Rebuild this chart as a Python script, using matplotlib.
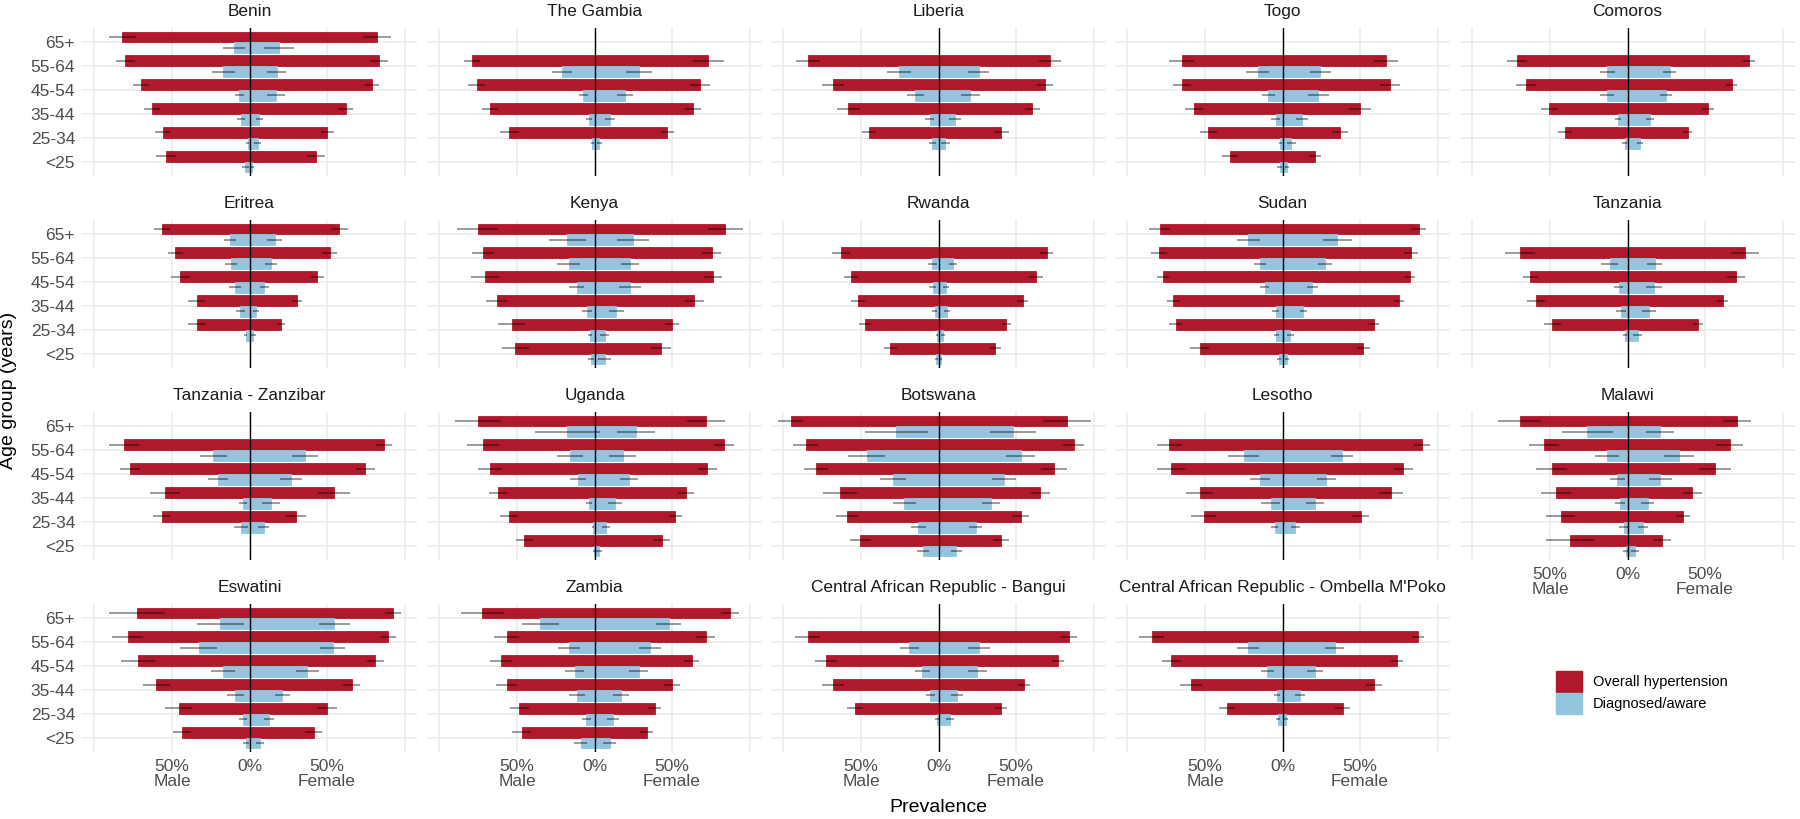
import numpy as np
import matplotlib
matplotlib.use("Agg")
import matplotlib.pyplot as plt
from matplotlib.patches import Patch

N = np.nan

AGE_GROUPS = ["<25", "25-34", "35-44", "45-54", "55-64", "65+"]

COUNTRIES = [
    "Benin", "The Gambia", "Liberia", "Togo", "Comoros",
    "Eritrea", "Kenya", "Rwanda", "Sudan", "Tanzania",
    "Tanzania - Zanzibar", "Uganda", "Botswana", "Lesotho", "Malawi",
    "Eswatini", "Zambia", "Central African Republic - Bangui",
    "Central African Republic - Ombella M'Poko",
]

# Overall hypertension prevalence (%), order of AGE_GROUPS
HYP_MALE = [
    [54, 56, 63, 70, 80, 82],
    [N, 55, 67.5, 76, 79, N],
    [N, 44.8, 58.2, 68, 84.2, N],
    [33.8, 48, 57.1, 64.7, 64.9, N],
    [N, 40, 50.4, 65.2, 71.2, N],
    [N, 33.8, 34.1, 44.6, 47.8, 56.4],
    [51, 53.5, 63.1, 70.5, 71.8, 75.3],
    [31.1, 47.4, 52, 56.3, 62.9, N],
    [53.4, 68.9, 70.3, 77.1, 79.7, 79.1],
    [N, 48.5, 59.1, 62.6, 69.3, N],
    [N, 56.7, 54.5, 76.9, 81.1, N],
    [45.2, 55.4, 62.2, 67.6, 71.8, 75],
    [50.3, 58.9, 63.4, 78.9, 85.7, 95.4],
    [N, 50.9, 53.4, 71.7, 72.9, N],
    [37.2, 43.1, 46.1, 48.9, 53.7, 69.5],
    [43.5, 45.7, 60, 72.1, 78.4, 72.4],
    [47, 48.5, 56.7, 60.4, 56.7, 72.4],
    [N, 53.7, 67.9, 72.4, 84.3, N],
    [N, 35.8, 59, 71.6, 84.3, N],
]
HYP_MALE_ERR = [
    [6.4, 5, 5, 5.2, 6, 8.5],
    [N, 6, 5.2, 5.4, 5.4, N],
    [N, 4.5, 7.5, 7.3, 7.5, N],
    [5.3, 5.5, 5.9, 5.9, 8, N],
    [N, 4.5, 5.3, 6.4, 6.2, N],
    [N, 5.9, 5.4, 6, 5, 5.4],
    [8.6, 8.8, 6.8, 9, 7.3, 13.3],
    [4.2, 3.7, 4.4, 4.6, 6, N],
    [6, 4.4, 4.2, 4, 5, 6.8],
    [N, 5.4, 5.6, 5.1, 9.5, N],
    [N, 5.5, 9.5, 6.4, 9.8, N],
    [5.5, 5.8, 5.9, 7.8, 10.1, 14.8],
    [6.5, 7.2, 10.9, 7.6, 8.3, 8],
    [N, 8, 8.9, 8.9, 8, N],
    [15.5, 9.2, 9.5, 10, 9.5, 14],
    [5.9, 8.6, 8.9, 11, 10, 18],
    [6, 6, 7, 7, 8, 14],
    [N, 5, 7, 7, 8, N],
    [N, 5, 7, 6, 8, N],
]
HYP_FEMALE = [
    [43, 50, 62, 79, 83.5, 82.5],
    [N, 47, 63.4, 68.2, 73.4, N],
    [N, 40.5, 60.6, 68.8, 72.1, N],
    [21, 37.2, 50, 69.5, 66.7, N],
    [N, 38.7, 51.9, 67.1, 78.1, N],
    [N, 20.4, 30.6, 43.6, 51.6, 58],
    [42.9, 50, 64.4, 76.3, 75.6, 84.3],
    [36.6, 43.7, 54.3, 62.9, 69.7, N],
    [52, 59.1, 75.4, 82.3, 82.9, 87.7],
    [N, 45.5, 61.3, 70.1, 75.8, N],
    [N, 30.1, 54.5, 74.7, 86.9, N],
    [43.6, 52.2, 59, 72.8, 83.3, 72.1],
    [40.3, 53.1, 65.7, 74.3, 87.1, 82.9],
    [N, 50.3, 70, 78, 90, N],
    [22.5, 35.5, 41.8, 56.7, 65.8, 70.6],
    [41.3, 49.8, 66, 81.2, 89.6, 92.5],
    [33.6, 38.8, 50, 62.7, 71.6, 87.3],
    [N, 40.3, 55.2, 76.9, 84.3, N],
    [N, 38.8, 59, 73.9, 87.3, N],
]
HYP_FEMALE_ERR = [
    [6, 4.2, 4.8, 4.5, 5.6, 9],
    [N, 4.4, 5, 6.5, 10, N],
    [N, 5, 5, 5.2, 7, N],
    [3.9, 5.1, 7.2, 6.4, 7.6, N],
    [N, 3.2, 3.8, 3.8, 3.8, N],
    [N, 2.6, 3.2, 4.2, 5.1, 5.4],
    [6.2, 4.7, 6.1, 5.6, 6, 11.2],
    [3.6, 3, 3.4, 4.3, 4, N],
    [4.2, 3.4, 3.2, 3.1, 4.4, 4.8],
    [N, 3.5, 3.5, 5.7, 9, N],
    [N, 6.3, 10.6, 6, 5.2, N],
    [5.1, 4.4, 5.4, 6.3, 6.5, 12.3],
    [5.2, 5.5, 6.2, 8.5, 7, 15.3],
    [N, 5.6, 7.9, 6, 5, N],
    [5.3, 4.5, 6, 10.3, 8.9, 8.8],
    [5.2, 6.4, 5.4, 5.2, 5, 5],
    [4, 4, 5, 5, 6, 6],
    [N, 4, 4, 4, 5, N],
    [N, 5, 5, 4, 4, N],
]

# Diagnosed / aware prevalence (%)
AWARE_MALE = [
    [2.6, 1.1, 5.2, 6.5, 17, 10],
    [N, 1.3, 3.5, 7.1, 20.8, N],
    [N, 3.9, 5.8, 14.9, 25.3, N],
    [1.9, 1.5, 4.5, 9.1, 16, N],
    [N, 1.9, 6.1, 13, 13, N],
    [N, 2.5, 6, 9.2, 12.1, 12.4],
    [2.2, 2.9, 4.8, 11.5, 16.7, 17.6],
    [1.4, 1.1, 2.3, 3.7, 4, N],
    [2, 4, 4.3, 11.4, 14.3, 22],
    [N, 1.7, 4.3, 5.8, 11.5, N],
    [N, 5.4, 4.2, 20.2, 23.4, N],
    [0.3, 1, 3.5, 10.6, 15.7, 17.6],
    [10, 12.9, 22, 29.4, 46.3, 27.1],
    [N, 5.1, 7.7, 14.6, 24.9, N],
    [1.1, 2.4, 4.8, 6.5, 13.2, 25.8],
    [2.4, 4.1, 9.1, 17.1, 32.8, 18.7],
    [9, 5.2, 11.2, 12.7, 16.4, 35],
    [N, 1, 5.2, 10.4, 18.7, N],
    [N, 3, 3.7, 9.7, 22.4, N],
]
AWARE_MALE_ERR = [
    [2, 1, 2.6, 2.8, 7.5, 7],
    [N, 1, 2, 3.2, 6.5, N],
    [N, 2, 3.2, 5.4, 7.8, N],
    [1.5, 1, 3, 4.2, 7.3, N],
    [N, 1.5, 2.2, 4.5, 5, N],
    [N, 1.2, 2.8, 3.8, 3.8, 3.8],
    [2, 1.5, 3, 4.8, 7.4, 12],
    [0.8, 0.8, 1.6, 2.2, 3, N],
    [1.3, 1.8, 2.2, 2.8, 3.8, 7.2],
    [N, 1.3, 3.2, 3.1, 5.3, N],
    [N, 4.4, 2.5, 6.3, 8.7, N],
    [0.5, 0.8, 1.8, 5.2, 8.3, 21],
    [3.9, 4.6, 7.5, 8.5, 12, 20.5],
    [N, 2.5, 6.2, 6.3, 10, N],
    [2, 3, 3, 5, 7.8, 16.5],
    [2, 2.5, 5.4, 7.6, 12, 15],
    [4, 3, 5, 6, 7, 12],
    [N, 1, 3, 5, 6, N],
    [N, 1.5, 2, 4, 7, N],
]
AWARE_FEMALE = [
    [1.7, 5.4, 6.3, 17, 17.5, 19],
    [N, 3.2, 10.2, 19.7, 28.8, N],
    [N, 4.5, 10.8, 20.6, 25.8, N],
    [3, 5.8, 12.6, 23.2, 24.5, N],
    [N, 8, 14.5, 24.7, 27.1, N],
    [N, 2.5, 4.1, 9.6, 13.7, 16.2],
    [6.7, 6.7, 14.1, 22.8, 22.8, 24.7],
    [1.4, 2.9, 5.7, 4.9, 9.1, N],
    [2.6, 5.1, 13.4, 19.1, 27.4, 35.4],
    [N, 6.7, 13.9, 17.1, 17.5, N],
    [N, 9.3, 13.8, 26.9, 35.6, N],
    [2.9, 7.4, 13.1, 22.1, 18.3, 26.9],
    [11.4, 24, 34, 42.3, 52.9, 48],
    [N, 8.3, 21.1, 28.3, 38.3, N],
    [4.8, 10, 13, 21, 33.1, 21],
    [6.7, 12.6, 21, 37.2, 53.7, 54.5],
    [9.7, 11.9, 17.2, 28.4, 35.8, 47.8],
    [N, 7.5, 11.9, 25, 26, N],
    [N, 2.2, 11.2, 20.9, 33.6, N],
]
AWARE_FEMALE_ERR = [
    [1, 2.3, 2.3, 5.8, 6.3, 9.5],
    [N, 1.8, 3.2, 5.4, 8.3, N],
    [N, 2.8, 4, 6.3, 6.5, N],
    [1.5, 2.7, 3.9, 6.7, 6.8, N],
    [N, 2.1, 2.6, 3.8, 4.1, N],
    [N, 1.5, 2, 2.8, 4, 4.6],
    [4.2, 2.9, 5, 6.9, 5.9, 10.3],
    [0.8, 1.5, 2, 2, 2.6, N],
    [1.3, 2, 2.4, 3.5, 4.8, 9.3],
    [N, 2.9, 4.5, 5.2, 5, N],
    [N, 3.5, 5.6, 7, 8.5, N],
    [2.2, 2.7, 4.4, 5.8, 8.7, 12.4],
    [3.6, 4.3, 5.7, 7.9, 9.2, 15],
    [N, 2.9, 5.8, 6.3, 6.9, N],
    [2.4, 3.3, 4.1, 7.4, 9.8, 8.9],
    [2.5, 3, 4.8, 7.3, 8, 10],
    [4, 4, 5, 6, 7, 8],
    [N, 2.5, 4, 6, 7, N],
    [N, 1.5, 3, 5, 6, N],
]

X_BREAKS = [-100, -50, 0, 50, 100]
X_LABELS = ["", "50%\nMale", "0%", "50%\nFemale", ""]

RED = "#B2182B"
BLUE = "#92C5DE"
GRID = "#EBEBEB"
TXT = "#4D4D4D"
FONT = ["Liberation Sans", "DejaVu Sans"]
plt.rcParams["font.family"] = FONT

W, H = 1800, 819
fig = plt.figure(figsize=(W / 100, H / 100), dpi=100)

col_left = [82, 427, 771, 1115, 1460]
pw, ph = 335, 148
row_top = [28, 220, 412, 604]

pos = np.arange(1, len(AGE_GROUPS) + 1)
dy = 0.225
bh = 0.45


def draw_side(ax, vals, errs, y, sign, color):
    vals = np.asarray(vals, float)
    errs = np.asarray(errs, float)
    ok = ~np.isnan(vals)
    ax.barh(y[ok], sign * vals[ok], height=bh, color=color, edgecolor=color,
            linewidth=0.6, zorder=2)
    e = np.nan_to_num(errs[ok])
    ax.hlines(y[ok], sign * (vals[ok] - e), sign * (vals[ok] + e),
              color="black", alpha=0.5, linewidth=1.1, zorder=3)


for i, name in enumerate(COUNTRIES):
    r, c = divmod(i, 5)
    left = col_left[c] / W
    bottom = 1 - (row_top[r] + ph) / H
    ax = fig.add_axes([left, bottom, pw / W, ph / H])
    ax.set_xlim(-108, 108)
    ax.set_ylim(0.4, 6.6)
    ax.set_xticks(X_BREAKS)
    ax.set_yticks(pos)
    ax.grid(True, color=GRID, linewidth=1.1, zorder=0)
    ax.set_axisbelow(True)
    for s in ax.spines.values():
        s.set_visible(False)
    ax.tick_params(length=0, colors=TXT, labelsize=12.5)

    draw_side(ax, HYP_MALE[i], HYP_MALE_ERR[i], pos + dy, -1, RED)
    draw_side(ax, HYP_FEMALE[i], HYP_FEMALE_ERR[i], pos + dy, 1, RED)
    draw_side(ax, AWARE_MALE[i], AWARE_MALE_ERR[i], pos - dy, -1, BLUE)
    draw_side(ax, AWARE_FEMALE[i], AWARE_FEMALE_ERR[i], pos - dy, 1, BLUE)
    ax.axvline(0, color="black", linewidth=1.0, zorder=4)

    ax.text(0.5, 1 + 16.5 / ph, name, transform=ax.transAxes, ha="center",
            va="center", fontsize=12.4, color="#1A1A1A")

    if c == 0:
        ax.set_yticklabels(AGE_GROUPS)
        ax.tick_params(axis="y", pad=5)
    else:
        ax.set_yticklabels([])
    bottom_row = (r == 3) or (r == 2 and c == 4)
    if bottom_row:
        ax.set_xticklabels(X_LABELS, linespacing=1.0)
        ax.tick_params(axis="x", pad=5)
    else:
        ax.set_xticklabels([])

fig.text(9 / W, 1 - 390 / H, "Age group (years)", rotation=90, ha="center",
         va="center", fontsize=14, color="black")
fig.text(938 / W, 1 - 807 / H, "Prevalence", ha="center", va="center",
         fontsize=14, color="black")

handles = [Patch(facecolor=RED, edgecolor=RED), Patch(facecolor=BLUE, edgecolor=BLUE)]
fig.legend(handles, ["Overall hypertension", "Diagnosed/aware"],
           loc="upper left", bbox_to_anchor=(1556 / W, 1 - 671 / H),
           frameon=False, fontsize=10.5, handlelength=1.8, handleheight=1.8,
           handletextpad=0.75, labelspacing=0.12, borderpad=0, borderaxespad=0)

fig.savefig("out.png", dpi=100)
